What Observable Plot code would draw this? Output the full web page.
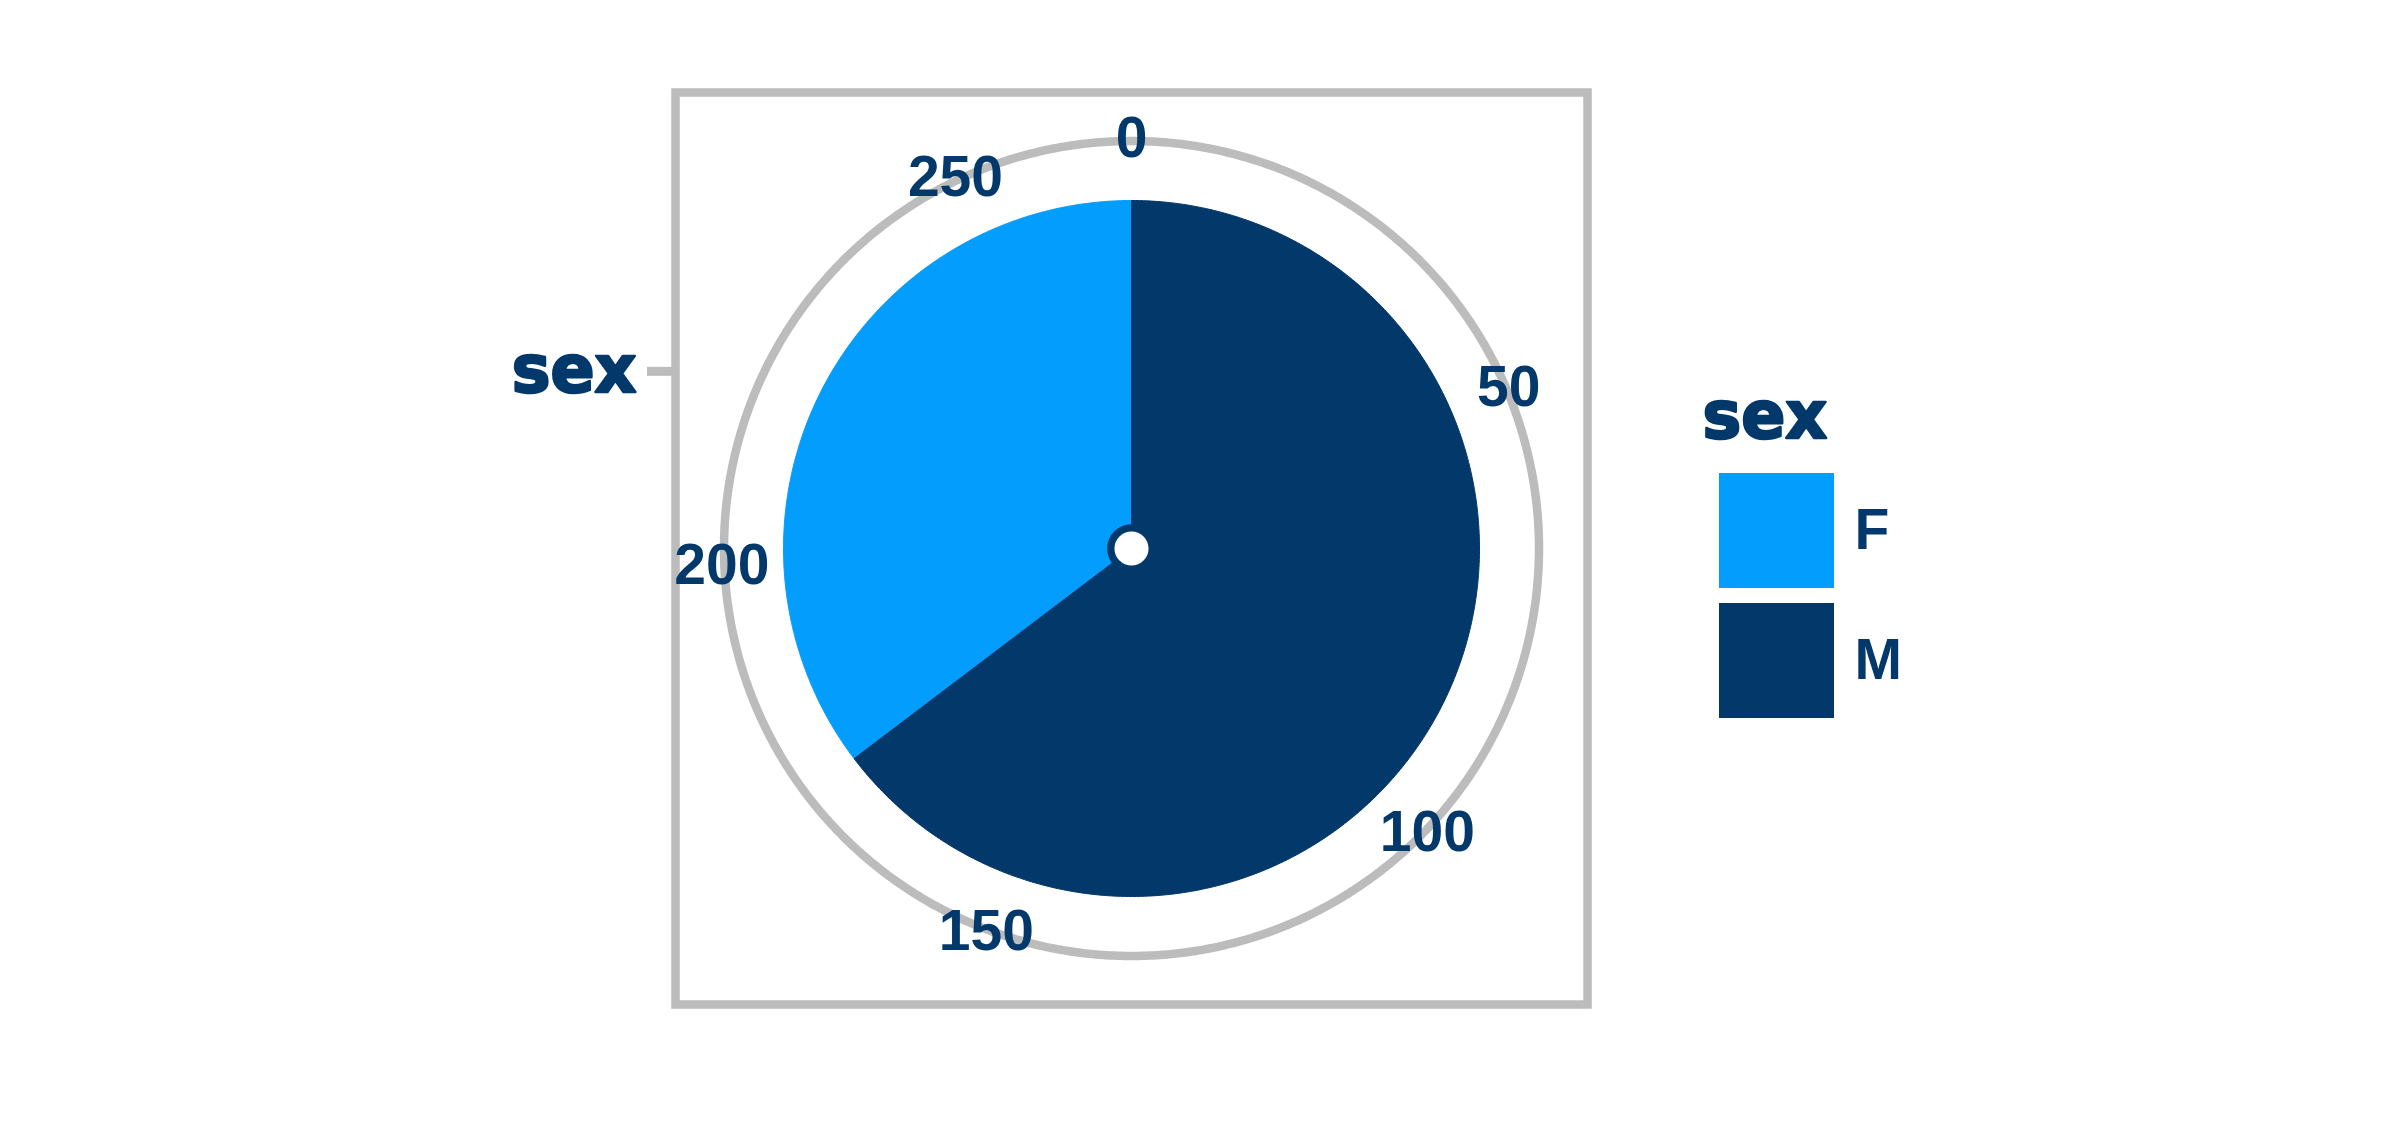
<!DOCTYPE html>
<html>
<head>
<meta charset="utf-8">
<script src="https://cdn.jsdelivr.net/npm/d3@7"></script>
<script src="https://cdn.jsdelivr.net/npm/@observablehq/plot@0.6"></script>
<style>
  html, body { margin: 0; padding: 0; background: #ffffff; }
  #wrap { position: relative; width: 2404px; height: 1124px; overflow: hidden; background: #fff; }
  #wrap svg { position: absolute; display: block; max-width: none; overflow: visible; }
</style>
</head>
<body>
<div id="wrap"></div>
<script>
// ---------- data ----------
const categories = ["F", "M"];          // sex
const counts = [95, 174];               // count per sex
const thetaTicks = [0, 50, 100, 150, 200, 250];
const axisLabel = "sex";
const legendTitle = "sex";

// ---------- style ----------
const LIGHT = "#039dfd";
const DARK = "#03386a";
const GRAY = "#bcbcbc";
const H = 456 / 348;        // half extent of the frame, in pie radii
const RING = 407.5 / 348;   // outer guide circle radius
const LABEL_R = 410 / 348;  // radius of angular tick labels
const AXIS_POS = 0.509;     // position of the "sex" axis tick

const total = d3.sum(counts);
const theta = d3.scaleLinear().domain([0, total]).range([0, 2 * Math.PI]);

// pie slices as polygons (default d3.pie order: largest first, clockwise from 12 o'clock)
const arcs = d3.pie()(counts);
const slices = [];
arcs.forEach((a, i) => {
  const cat = categories[i];
  const n = 360;
  slices.push({x: 0, y: 0, sex: cat});
  for (let k = 0; k <= n; ++k) {
    const t = a.startAngle + (a.endAngle - a.startAngle) * k / n;
    slices.push({x: Math.sin(t), y: Math.cos(t), sex: cat});
  }
  slices.push({x: 0, y: 0, sex: cat});
});

// guide circle
const ringPts = d3.range(0, 721).map(k => {
  const t = k / 720 * 2 * Math.PI;
  return {x: RING * Math.sin(t), y: RING * Math.cos(t)};
});

const chart = Plot.plot({
  width: 2404,
  height: 1124,
  marginLeft: 675,
  marginRight: 817,
  marginTop: 92,
  marginBottom: 120,
  x: {domain: [-H, H], axis: null},
  y: {domain: [-H, H], axis: null},
  color: {domain: categories, range: [LIGHT, DARK]},
  marks: [
    Plot.frame({stroke: GRAY, strokeWidth: 8.5}),
    Plot.axisY([AXIS_POS], {
      anchor: "left",
      tickFormat: () => axisLabel,
      tickSize: 28,
      tickPadding: 11,
      stroke: GRAY,
      strokeWidth: 9,
      fill: DARK,
      textStroke: DARK,
      textStrokeWidth: 2.5,
      fontSize: 65,
      fontWeight: "bold",
      fontFamily: "DejaVu Sans",
      label: null
    }),
    Plot.line(ringPts, {x: "x", y: "y", stroke: GRAY, strokeWidth: 8.5, curve: "linear"}),
    Plot.line(slices, {x: "x", y: "y", z: "sex", fill: "sex", stroke: "sex", strokeWidth: 1, curve: "linear"}),
    Plot.text(thetaTicks, {
      x: d => LABEL_R * Math.sin(theta(d)),
      y: d => LABEL_R * Math.cos(theta(d)),
      text: d => String(d),
      fontSize: 57,
      fontWeight: "bold",
      fontFamily: "Liberation Sans, Arial, sans-serif",
      fill: DARK
    }),
    Plot.dot([{x: 0, y: 0}], {x: "x", y: "y", r: 20.7, fill: "white", stroke: DARK, strokeWidth: 7.3})
  ]
});
chart.style.left = "0px";
chart.style.top = "0px";
document.getElementById("wrap").appendChild(chart);

// ---------- legend (uses the chart's colour scale) ----------
// legend svg placed at page (1650, 300)
const colorScale = chart.scale("color");
const legend = Plot.plot({
  width: 360,
  height: 500,
  margin: 0,
  x: {type: "band", domain: ["swatch"], range: [69, 184], padding: 0, axis: null},
  y: {type: "band", domain: colorScale.domain, range: [173, 418], paddingInner: 15 / 130, paddingOuter: 0, axis: null},
  color: {domain: colorScale.domain, range: colorScale.range},
  marks: [
    Plot.cell(colorScale.domain, {x: () => "swatch", y: d => d, fill: d => d, inset: 0}),
    Plot.text(colorScale.domain, {
      x: () => "swatch", y: d => d, text: d => d, dx: 77.5,
      textAnchor: "start", fontSize: 57, fontWeight: "bold",
      fontFamily: "Liberation Sans, Arial, sans-serif", fill: DARK
    }),
    Plot.text([legendTitle], {
      frameAnchor: "top-left", lineAnchor: "middle", dx: 52, dy: 116.5, text: d => d,
      textAnchor: "start", fontSize: 65, fontWeight: "bold",
      fontFamily: "DejaVu Sans", fill: DARK, stroke: DARK, strokeWidth: 2.5
    })
  ]
});
legend.style.left = "1650px";
legend.style.top = "300px";
document.getElementById("wrap").appendChild(legend);
</script>
</body>
</html>
